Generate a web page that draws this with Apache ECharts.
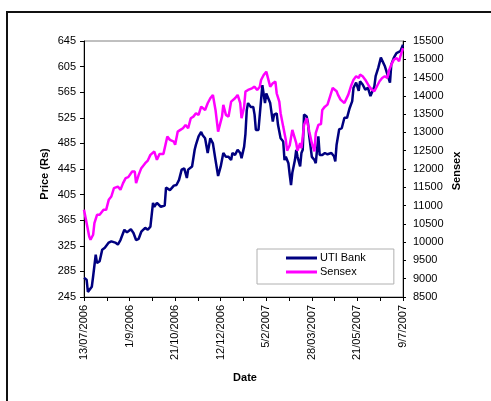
<!DOCTYPE html>
<html>
<head>
<meta charset="utf-8">
<script src="https://cdn.jsdelivr.net/npm/echarts@6/dist/echarts.min.js"></script>
<style>
html,body{margin:0;padding:0;background:#fff;}
#chart{width:491px;height:401px;}
</style>
</head>
<body>
<div id="chart"></div>
<script>
const tickLabels = ['13/07/2006','1/9/2006','21/10/2006','12/12/2006','5/2/2007','28/03/2007','21/05/2007','9/7/2007'];
const priceTicks = [245,285,325,365,405,445,485,525,565,605,645];

const utiDay = [0,2,3,6,7,9,10,12,14,16,19,21,24,26,28,31,33,36,38,40,42,44,47,49,51,53,54,56,59,62,63,66,69,71,73,75,77,79,80,83,85,86,88,90,91,93,95,97,99,101,103,105,107,109,111,113,114,116,118,120,121,123,124,125,126,128,130,131,132,134,136,137,139,140,141,143,145,146,148,149,151,153,154,155,157,158,159,160,162,163,164,166,167,168,169,171,172,173,175,176,177,178,180,181,183,185,187,190,192,193,194,196,198,200,202,204,206,207,209,211,212,214,216,218,220,221,223,224,226,228,229,231,233,235,236,238,240,241,243,245];
const utiPrice = [275,272,253,261,277,311,298,301,319,322,330,332,330,327,334,350,346,351,345,334,336,347,353,350,355,392,386,392,386,388,416,412,419,420,428,444,446,431,444,449,475,483,496,503,498,493,470,493,485,459,434,449,470,464,464,459,470,467,475,470,462,480,500,537,548,542,542,530,506,506,553,576,548,563,561,548,519,530,532,514,493,488,459,464,454,436,420,439,459,475,464,449,470,475,530,527,517,496,464,462,459,454,496,467,467,470,468,470,465,457,483,507,509,525,525,540,551,572,580,567,582,577,569,572,559,561,574,590,603,619,616,606,593,580,608,619,626,629,629,639];

const sensexDay = [0,2,4,5,7,8,10,12,15,17,19,21,23,26,28,30,32,34,37,39,40,42,44,47,49,51,52,54,56,58,61,62,64,66,69,70,72,74,76,78,80,82,84,86,88,90,91,93,95,97,99,101,103,106,107,109,111,113,114,116,118,120,121,123,124,126,129,131,133,135,136,138,140,141,143,145,147,148,150,151,153,155,156,158,160,161,163,164,166,167,169,171,173,175,177,178,180,182,183,185,186,187,189,191,192,194,195,197,200,201,203,205,207,209,211,212,214,216,217,219,221,223,225,227,229,231,233,234,236,238,240,242,243,245];
const sensexValue = [10884,10521,10155,10065,10201,10521,10748,10748,10884,10884,11157,11248,11477,11520,11430,11613,11750,11777,11930,11930,11613,11840,12023,12160,12231,12386,12433,12477,12250,12413,12413,12420,12886,12796,12750,12660,13023,13069,13115,13205,13115,13389,13432,13525,13479,13705,13752,13615,13798,13935,14025,13615,13023,13432,13752,13479,13432,13842,13842,13935,14025,13798,13389,13705,14115,14161,14207,14251,14161,14251,14434,14571,14661,14617,14251,14344,14388,14071,13842,13525,13159,12796,12500,12650,13069,13023,12706,12500,12706,12569,13205,13389,13023,12706,12480,12979,13205,13230,13615,13705,13661,13760,13989,14216,14262,14126,14033,13897,13806,13853,14033,14262,14443,14536,14489,14580,14536,14443,14399,14262,14170,14126,14262,14399,14489,14536,14489,14672,14852,14989,15035,14945,15082,15308];

const FONT = 'Liberation Sans, Arial, sans-serif';
const chart = echarts.init(document.getElementById('chart'));
chart.setOption({
  animation: false,
  backgroundColor: '#ffffff',
  textStyle: { fontFamily: FONT },
  grid: { left: 84, right: 88, top: 41, bottom: 104, show: true, borderColor: '#808080', borderWidth: 1, containLabel: false },
  legend: {
    orient: 'vertical', left: 257, top: 249,
    padding: [2, 28, 5, 29],
    backgroundColor: '#ffffff', borderColor: '#b0b0b0', borderWidth: 1,
    icon: 'rect', itemWidth: 31, itemHeight: 3, itemGap: 0,
    textStyle: { fontFamily: FONT, fontSize: 11, color: '#000', lineHeight: 14, padding: [0,0,0,-2] },
    data: ['UTI Bank', 'Sensex']
  },
  xAxis: {
    type: 'value', min: 0, max: 245, interval: 17.5,
    splitLine: { show: false },
    axisLine: { lineStyle: { color: '#000', width: 1 } },
    axisTick: { show: true, length: 4, lineStyle: { color: '#000' } },
    axisLabel: {
      rotate: 90, margin: 8, fontSize: 11, color: '#000', fontFamily: FONT,
      showMinLabel: true, showMaxLabel: true, hideOverlap: false,
      formatter: function (v) {
        const k = Math.round(v / 35);
        return Math.abs(v - k * 35) < 1e-6 && tickLabels[k] ? tickLabels[k] : '';
      }
    }
  },
  yAxis: [
    {
      type: 'value', position: 'left', min: 245, max: 645,
      axisLine: { show: true, lineStyle: { color: '#000', width: 1 } },
      axisTick: { show: true, length: 4, lineStyle: { color: '#000' }, customValues: priceTicks },
      axisLabel: { margin: 8, fontSize: 11, color: '#000', fontFamily: FONT, customValues: priceTicks, formatter: v => String(v) },
      splitLine: { show: false }
    },
    {
      type: 'value', position: 'right', min: 8500, max: 15500, interval: 500,
      axisLine: { show: true, lineStyle: { color: '#000', width: 1 } },
      axisTick: { show: true, length: 3, lineStyle: { color: '#000' } },
      axisLabel: { margin: 10, fontSize: 11, color: '#000', fontFamily: FONT, formatter: v => String(v) },
      splitLine: { show: false }
    }
  ],
  series: [
    {
      name: 'UTI Bank', type: 'line', yAxisIndex: 0, showSymbol: false, symbol: 'none',
      lineStyle: { color: '#000080', width: 2.5 }, itemStyle: { color: '#000080' },
      data: utiDay.map((d, i) => [d, utiPrice[i]])
    },
    {
      name: 'Sensex', type: 'line', yAxisIndex: 1, showSymbol: false, symbol: 'none',
      lineStyle: { color: '#ff00ff', width: 2.5 }, itemStyle: { color: '#ff00ff' },
      data: sensexDay.map((d, i) => [d, sensexValue[i]])
    }
  ],
  graphic: [
    { type: 'rect', shape: { x: 7, y: 12, width: 520, height: 420 }, style: { fill: 'none', stroke: '#111', lineWidth: 2 }, silent: true },
    { type: 'text', x: 45, y: 174, rotation: Math.PI / 2, style: { text: 'Price (Rs)', font: 'bold 11px ' + FONT, fill: '#000', align: 'center', verticalAlign: 'middle' } },
    { type: 'text', x: 457, y: 171, rotation: Math.PI / 2, style: { text: 'Sensex', font: 'bold 11px ' + FONT, fill: '#000', align: 'center', verticalAlign: 'middle' } },
    { type: 'text', x: 245, y: 378, style: { text: 'Date', font: 'bold 11px ' + FONT, fill: '#000', align: 'center', verticalAlign: 'middle' } }
  ]
});
</script>
</body>
</html>
